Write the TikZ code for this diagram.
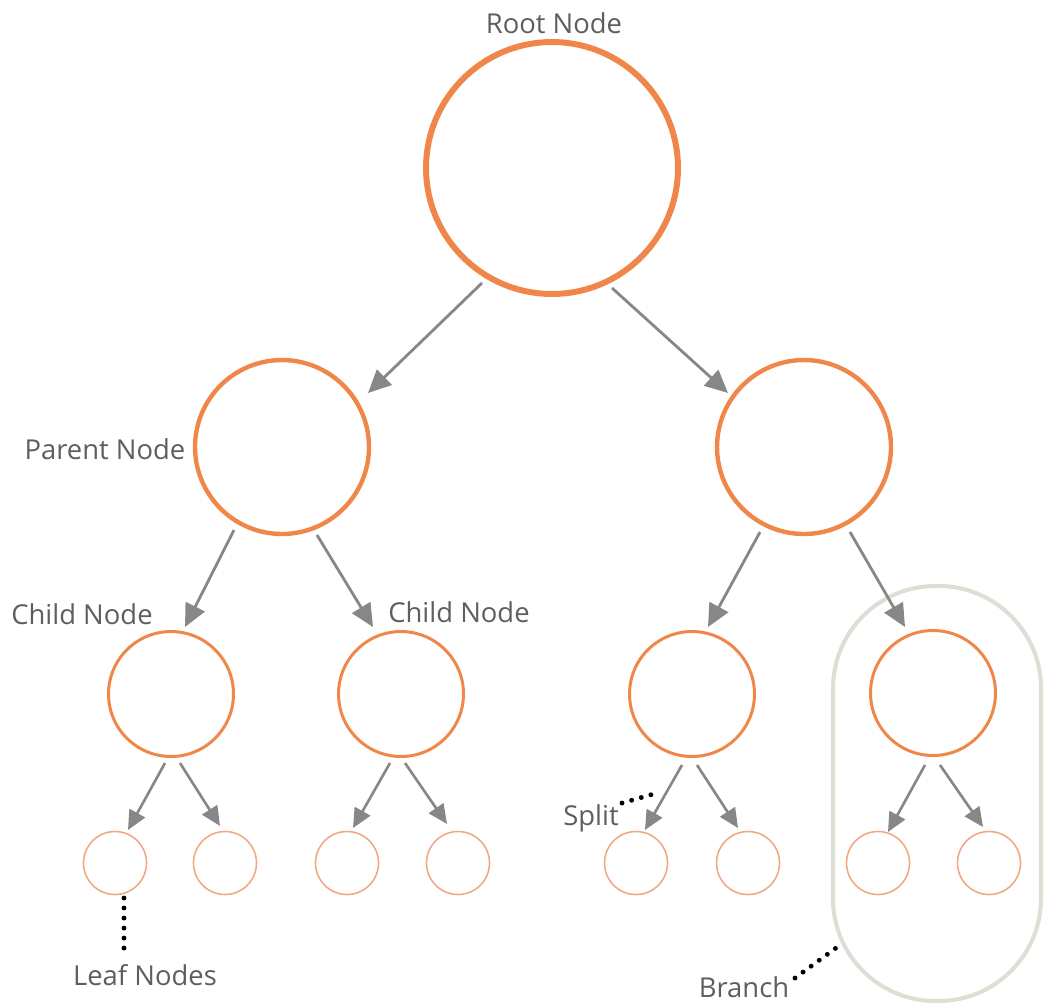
\documentclass[tikz,border=0pt]{standalone}
\usepackage{fontspec}
\setmainfont{Open Sans}
\usetikzlibrary{arrows.meta}
\definecolor{orng}{HTML}{F0874A}
\definecolor{lorng}{HTML}{F2A884}
\definecolor{arrgray}{HTML}{878787}
\definecolor{txtgray}{HTML}{5E5E5E}
\definecolor{branchc}{HTML}{DEDED4}
\begin{document}
\begin{tikzpicture}[x=0.02cm,y=-0.02cm,
  circA/.style={circle,draw=orng,line width=3.4pt,minimum size=5.04cm,inner sep=0pt},
  circB/.style={circle,draw=orng,line width=2.5pt,minimum size=3.48cm,inner sep=0pt},
  circC/.style={circle,draw=orng,line width=1.7pt,minimum size=2.5cm,inner sep=0pt},
  circD/.style={circle,draw=lorng,line width=0.9pt,minimum size=1.26cm,inner sep=0pt},
  bigarr/.style={draw=arrgray,line width=1.6pt,-{Triangle[length=13pt,width=12pt]}},
  smallarr/.style={draw=arrgray,line width=1.5pt,-{Triangle[length=11pt,width=10pt]}},
  dotline/.style={draw=black,line width=2.8pt,line cap=round,dash pattern=on 0pt off 5.7pt},
  lbl/.style={anchor=base,inner sep=0pt,text=txtgray,font=\fontsize{15.6pt}{18pt}\selectfont}]
\useasboundingbox (0,0) rectangle (1047,1004);

% branch outline
\draw[branchc,line width=2.3pt,rounded corners=2.05cm] (833,586) rectangle (1041,1001);

% circles
\node[circA] (root) at (552,168) {};
\node[circB] (p1) at (282,447) {};
\node[circB] (p2) at (804,447) {};
\node[circC] (c1) at (171,694) {};
\node[circC] (c2) at (401,694) {};
\node[circC] (c3) at (692,694) {};
\node[circC] (c4) at (933,693) {};
\node[circD] (l1) at (115,863) {};
\node[circD] (l2) at (225,863) {};
\node[circD] (l3) at (347,863) {};
\node[circD] (l4) at (458,863) {};
\node[circD] (l5) at (636,863) {};
\node[circD] (l6) at (748,863) {};
\node[circD] (l7) at (878,863) {};
\node[circD] (l8) at (989,863) {};

% labels
\node[lbl] (troot) at (554,33) {Root Node};
\node[lbl] (tparent) at (105,459) {Parent Node};
\node[lbl] (tchild1) at (82,624) {Child Node};
\node[lbl] (tchild2) at (459,622) {Child Node};
\node[lbl] (tsplit) at (591,825) {Split};
\node[lbl] (tleaf) at (145,985) {Leaf Nodes};
\node[lbl] (tbranch) at (744,997) {Branch};

% arrows
\draw[bigarr] ([shift={(-70,115)}]root.center) -- ([shift={(86,-54)}]p1.center);
\draw[bigarr] ([shift={(60,120)}]root.center) -- ([shift={(-76,-54)}]p2.center);
\draw[bigarr] ([shift={(-48,83)}]p1.center) -- ([shift={(14,-67)}]c1.center);
\draw[bigarr] ([shift={(35,88)}]p1.center) -- ([shift={(-28,-67)}]c2.center);
\draw[bigarr] ([shift={(-44,85)}]p2.center) -- ([shift={(16,-67)}]c3.center);
\draw[bigarr] ([shift={(46,85)}]p2.center) -- ([shift={(-28,-66)}]c4.center);

\draw[smallarr] ([shift={(-6,69)}]c1.center) -- ([shift={(13,-33)}]l1.center);
\draw[smallarr] ([shift={(9,69)}]c1.center) -- ([shift={(-5,-37)}]l2.center);
\draw[smallarr] ([shift={(-11,69)}]c2.center) -- ([shift={(6,-35)}]l3.center);
\draw[smallarr] ([shift={(4,69)}]c2.center) -- ([shift={(-11,-39)}]l4.center);
\draw[smallarr] ([shift={(-10,71)}]c3.center) -- ([shift={(9,-33)}]l5.center);
\draw[smallarr] ([shift={(5,71)}]c3.center) -- ([shift={(-10,-35)}]l6.center);
\draw[smallarr] ([shift={(-8,72)}]c4.center) -- ([shift={(10,-31)}]l7.center);
\draw[smallarr] ([shift={(7,72)}]c4.center) -- ([shift={(-6,-36)}]l8.center);

% dotted pointers
\coordinate (splitend) at (657,793);
\coordinate (branchend) at (840,945);
\draw[dotline] ([shift={(9,35)}]l1.center) -- ([shift={(-21,-33)}]tleaf.base);
\draw[dotline] ([shift={(31,-22)}]tsplit.base) -- (splitend);
\draw[dotline] ([shift={(51,-19)}]tbranch.base) -- (branchend);
\end{tikzpicture}
\end{document}
